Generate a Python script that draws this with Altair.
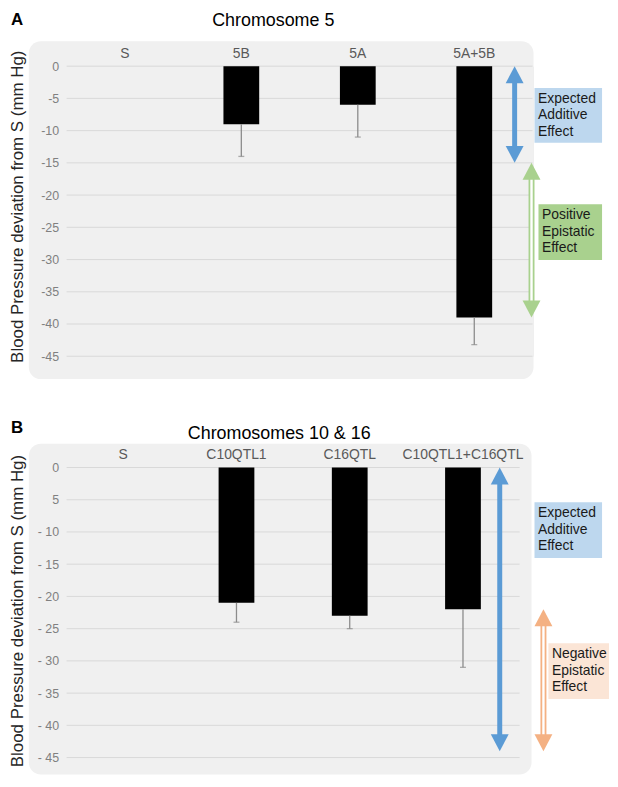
import altair as alt
import pandas as pd

# ---------------- data ----------------
a_categories = ["S", "5B", "5A", "5A+5B"]
a_values = [0, -9, -6, -39]
a_errors = [0, 5, 5, 4.2]

b_categories = ["S", "C10QTL1", "C16QTL", "C10QTL1+C16QTL"]
b_values = [0, -21, -23, -22]
b_errors = [0, 3, 2, 9]

y_ticks = [0, -5, -10, -15, -20, -25, -30, -35, -40, -45]
a_tick_labels = ["0", "-5", "-10", "-15", "-20", "-25", "-30", "-35", "-40", "-45"]
b_tick_labels = ["0", "5", "- 10", "- 15", "- 20", "- 25", "- 30", "- 35", "- 40", "- 45"]

a_title = "Chromosome 5"
b_title = "Chromosomes 10 & 16"
y_title = "Blood Pressure deviation from S (mm Hg)"
a_notes = ["Expected\nAdditive\nEffect", "Positive\nEpistatic\nEffect"]
b_notes = ["Expected\nAdditive\nEffect", "Negative\nEpistatic\nEffect"]

FONT = "Liberation Sans"
BLUE, BLUE_BOX = "#5b9bd5", "#bdd7ee"
GREEN, GREEN_BOX = "#a9d18e", "#a9d18e"
ORANGE, ORANGE_BOX = "#f4b183", "#fbe5d6"
HEAD_UP = "M0,0L1,1.9L-1,1.9Z"
HEAD_DOWN = "M0,0L1,-1.9L-1,-1.9Z"
ONE = pd.DataFrame({"k": [0]})


def label_expr(values, labels):
    expr = "''"
    for v, l in reversed(list(zip(values, labels))):
        expr = f"datum.value == {v} ? '{l}' : {expr}"
    return expr


def panel(cats, vals, errs, tick_labels, width, letter, letter_y, title, title_x,
          title_y, ytitle_y, bg, arrows, boxes):
    df = pd.DataFrame({"cat": cats, "value": vals, "err": errs})
    df["low"] = df["value"] - df["err"]
    edf = df[df["err"] > 0]
    gdf = pd.DataFrame({"tick": y_ticks})

    yscale = alt.Scale(domain=[-45, 0], nice=False, zero=False)
    yaxis = alt.Axis(values=y_ticks, labelExpr=label_expr(y_ticks, tick_labels),
                     grid=False, domain=False, zindex=1,
                     ticks=False, labelPadding=8, labelColor="#808080",
                     labelFontSize=12.5, labelFont=FONT, title=y_title,
                     titleFont=FONT, titleFontSize=17, titleFontWeight="normal",
                     titleColor="#262626", titleX=-49, titleY=ytitle_y,
                     titleBaseline="middle")
    xscale = alt.Scale(paddingInner=0.2, paddingOuter=0.1)
    xaxis = alt.Axis(orient="top", labelAngle=0, domain=False, ticks=False, zindex=1,
                     grid=False, labelPadding=6, labelColor="#595959",
                     labelFontSize=14, labelFont=FONT, title=None)
    X = alt.X("cat:N", sort=cats, scale=xscale, axis=xaxis)

    def Y(f):
        return alt.Y(f, scale=yscale, axis=yaxis)

    layers = []
    # background panel
    layers.append(alt.Chart(ONE).mark_rect(color="#f0f0f0", cornerRadius=12).encode(
        x=alt.value(bg[0]), x2=alt.value(bg[1]), y=alt.value(bg[2]), y2=alt.value(bg[3])))
    # gridlines
    layers.append(alt.Chart(gdf).mark_rule(color="#d9d9d9", strokeWidth=1).encode(
        y=Y("tick:Q"), x=alt.value(0), x2=alt.value(width)))
    # bars
    layers.append(alt.Chart(df).mark_bar(size=36, color="black").encode(x=X, y=Y("value:Q")))
    # error bars
    layers.append(alt.Chart(edf).mark_rule(color="#8c8c8c", strokeWidth=1.3).encode(
        x=X, y=Y("value:Q"), y2="low:Q"))
    layers.append(alt.Chart(edf).mark_tick(color="#8c8c8c", size=6, thickness=1.3,
                                           orient="horizontal").encode(x=X, y=Y("low:Q")))
    # arrows
    for top, bottom, xp, color, hollow in arrows:
        ad = pd.DataFrame({"top": [top], "bottom": [bottom]})
        base = alt.Chart(ad)
        layers.append(base.mark_rule(color=color, strokeWidth=6 if hollow else 5,
                                     yOffset=12, y2Offset=-12).encode(
            x=alt.value(xp), y=Y("top:Q"), y2="bottom:Q"))
        if hollow:
            layers.append(base.mark_rule(color="white", strokeWidth=2.4,
                                         yOffset=12, y2Offset=-12).encode(
                x=alt.value(xp), y=Y("top:Q"), y2="bottom:Q"))
        layers.append(base.mark_point(shape=HEAD_UP, size=324, filled=True, opacity=1,
                                      color=color, strokeWidth=0).encode(
            x=alt.value(xp), y=Y("top:Q")))
        layers.append(base.mark_point(shape=HEAD_DOWN, size=324, filled=True, opacity=1,
                                      color=color, strokeWidth=0).encode(
            x=alt.value(xp), y=Y("bottom:Q")))
    # note boxes
    for (x1, x2, y1, y2, fill, text) in boxes:
        layers.append(alt.Chart(ONE).mark_rect(color=fill).encode(
            x=alt.value(x1), x2=alt.value(x2), y=alt.value(y1), y2=alt.value(y2)))
        layers.append(alt.Chart(ONE).mark_text(
            align="left", baseline="top", lineBreak="\n", fontSize=14, lineHeight=16.5,
            font=FONT, color="#1a1a1a").encode(
            x=alt.value(x1 + 3.5), y=alt.value(y1 + 4), text=alt.value(text)))
    # panel letter and title
    layers.append(alt.Chart(ONE).mark_text(
        align="left", baseline="middle", fontSize=17, fontWeight="bold", font=FONT,
        color="black").encode(x=alt.value(-56), y=alt.value(letter_y),
                              text=alt.value(letter)))
    layers.append(alt.Chart(ONE).mark_text(
        align="center", baseline="middle", fontSize=18, font=FONT, color="black").encode(
        x=alt.value(title_x), y=alt.value(title_y), text=alt.value(title)))

    return alt.layer(*layers).properties(width=width, height=292)


a_expected = a_values[1] + a_values[2]
b_expected = b_values[1] + b_values[2]

panel_a = panel(
    a_categories, a_values, a_errors, a_tick_labels, 469, "A", -46.5, a_title, 208, -45,
    141, (-38, 470, -25, 315),
    [(0, a_expected, 451, BLUE, False), (a_expected, a_values[3], 468, GREEN, True)],
    [(471, 539, 22, 77, BLUE_BOX, a_notes[0]), (475, 539, 139, 195, GREEN_BOX, a_notes[1])],
)
panel_b = panel(
    b_categories, b_values, b_errors, b_tick_labels, 456, "B", -40, b_title, 214, -34,
    144, (-38, 468, -24, 309),
    [(0, b_expected, 436, BLUE, False), (b_values[3], b_expected, 480, ORANGE, True)],
    [(471, 539, 35, 91, BLUE_BOX, b_notes[0]), (485, 546, 177, 233, ORANGE_BOX, b_notes[1])],
)

chart = alt.vconcat(panel_a, panel_b, spacing=38).properties(
    padding={"left": 0, "top": 0, "right": 0, "bottom": 0}
).configure_view(strokeWidth=0, strokeOpacity=0).configure(font=FONT)

chart.save("out.html", embed_options={"renderer": "svg", "actions": False})
